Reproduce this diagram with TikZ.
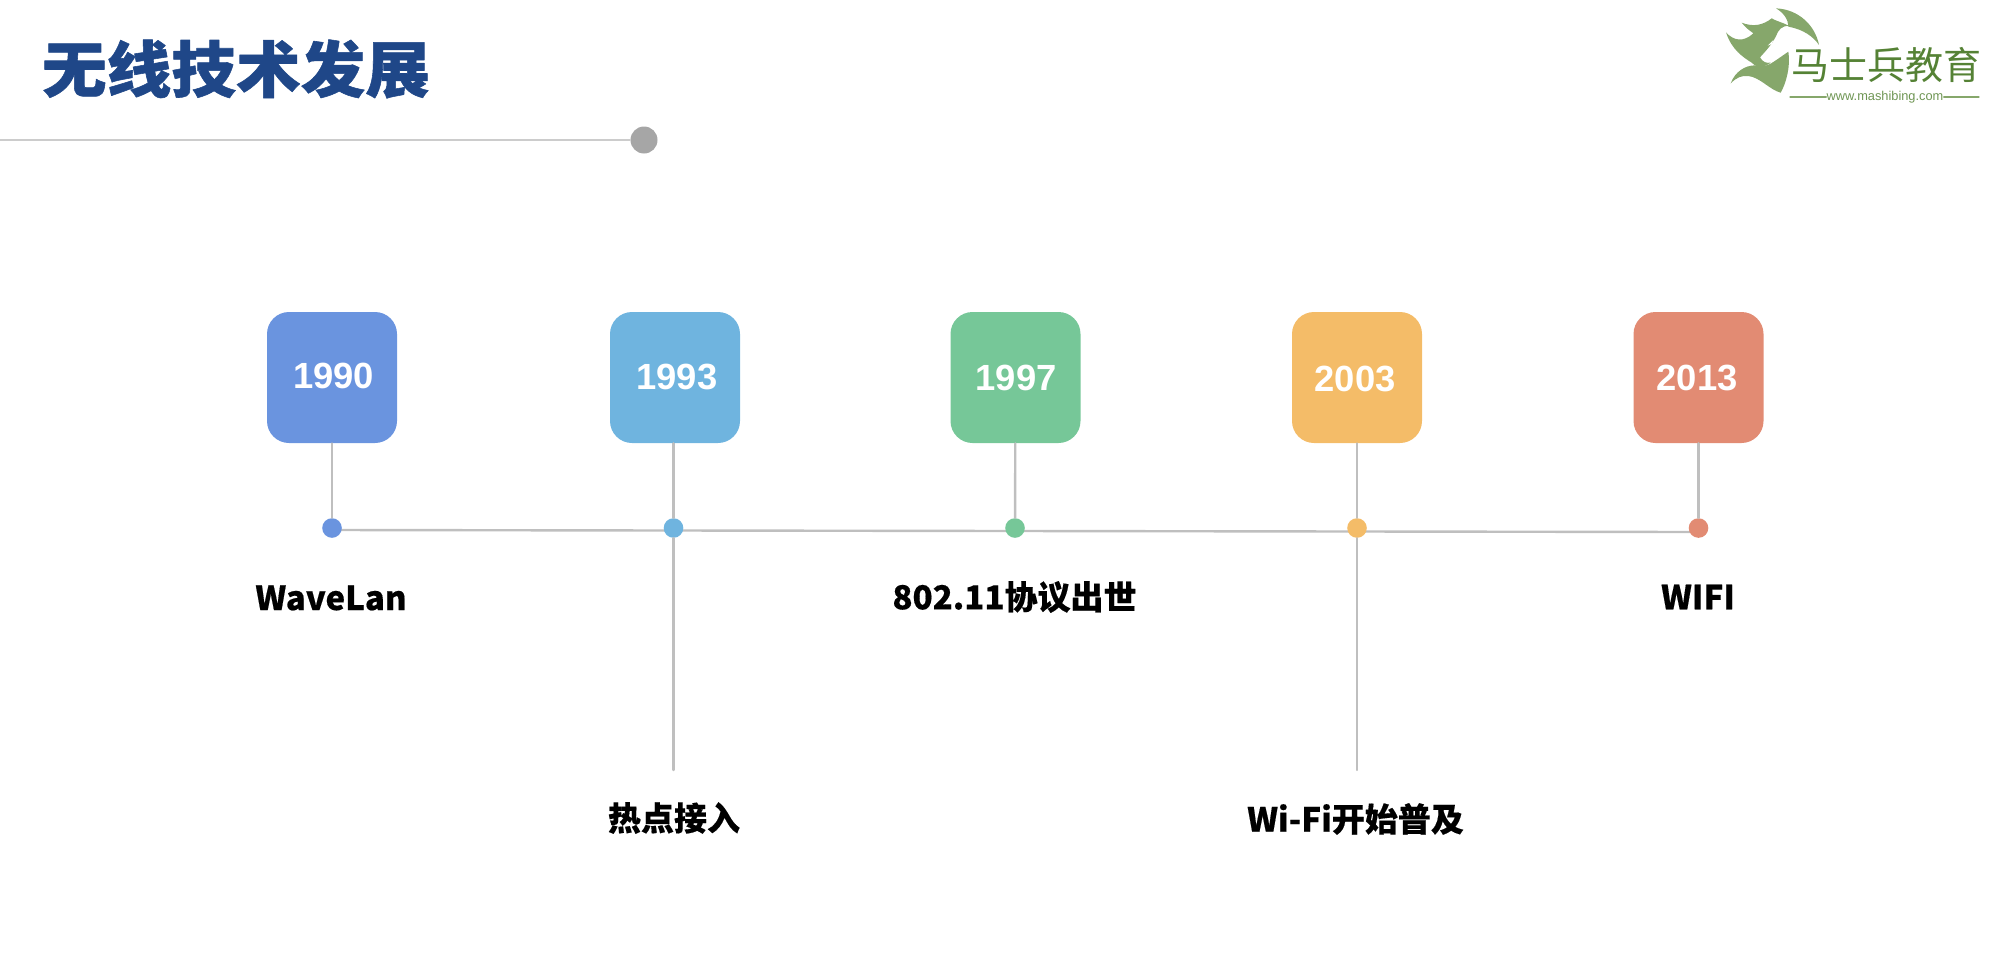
\documentclass[tikz,border=0pt]{standalone}
\usepackage{fontspec}
\usepackage{tikz}
\newfontfamily\cjkfont[BoldFeatures={FakeBold=0.9,FakeStretch=1.06}]{Noto Sans CJK SC}
\newfontfamily\labelfont[BoldFeatures={FakeBold=0.35}]{Noto Sans CJK SC}
\newfontfamily\yearfont{Liberation Sans}
\definecolor{titleblue}{HTML}{1F4788}
\definecolor{linegray}{HTML}{BFBFBF}
\definecolor{col1}{HTML}{6A94DF}
\definecolor{col2}{HTML}{6FB4DF}
\definecolor{col3}{HTML}{76C798}
\definecolor{col4}{HTML}{F4BC68}
\definecolor{col5}{HTML}{E28B73}
\definecolor{horsegreen}{HTML}{86A76B}
\definecolor{logogreen}{HTML}{558235}
\tikzset{
  yearbox/.style={rectangle,rounded corners=11pt,minimum width=65pt,minimum height=65.5pt,inner sep=0pt},
  yeartext/.style={inner sep=0pt,text=white,font=\yearfont\fontsize{18.2}{20}\selectfont\bfseries},
  yeardot/.style={circle,minimum size=9.8pt,inner sep=0pt},
  itemlabel/.style={inner sep=0pt,font=\labelfont\fontsize{16.5}{20}\selectfont\bfseries},
  joinline/.style={draw=linegray,line width=1.2pt}
}
\begin{document}
\begin{tikzpicture}[line cap=round,line join=round,x=0.5pt,y=-0.5pt]
\useasboundingbox (0,0) rectangle (2000,969);
% title
\node (title) [anchor=center,inner sep=0pt,text=titleblue,font=\cjkfont\fontsize{30.5}{36}\selectfont\bfseries] at (236,69) {无线技术发展};
\coordinate (rulestart) at (0,140);
\node (ruledot) [circle,minimum size=13.5pt,inner sep=0pt,fill=black!35] at (644,140) {};
\draw [draw=black!20,line width=1.1pt] (rulestart) -- (ruledot);
% logo
\begin{scope}[shift={(1720,0)},x=0.1667pt,y=-0.1667pt]
\fill [horsegreen] (168,25) .. controls (235,28) and (285,75) .. (297,135) .. controls (280,110) and (250,88) .. (205,80) .. controls (205,58) and (190,38) .. (168,25) -- cycle;
\fill [horsegreen] (65,68) .. controls (100,82) and (130,75) .. (155,55) .. controls (165,62) and (190,68) .. (208,78) .. controls (185,76) and (175,90) .. (168,108) .. controls (155,135) and (135,155) .. (120,172) .. controls (128,186) and (138,190) .. (152,188) .. controls (125,208) and (105,200) .. (95,188) .. controls (70,172) and (35,150) .. (18,97) .. controls (40,122) and (70,128) .. (100,100) .. controls (90,92) and (78,85) .. (65,68) -- cycle;
\fill [horsegreen] (205,155) .. controls (212,200) and (198,250) .. (182,278) .. controls (150,270) and (120,232) .. (85,228) .. controls (65,226) and (50,232) .. (32,250) .. controls (45,215) and (75,196) .. (105,196) .. controls (120,196) and (135,200) .. (150,192) .. controls (170,180) and (190,165) .. (205,155) -- cycle;
\fill [white] (143,137) -- (160,120) -- (155,132) -- cycle;
\end{scope}
\node (logoname) [inner sep=0pt,text=logogreen,font=\labelfont\fontsize{19}{22}\selectfont] at (1886,65) {马士兵教育};
\node (logosite) [inner sep=0pt,text=logogreen!85,font=\yearfont\fontsize{6.4}{8}\selectfont] at (1885,97) {www.mashibing.com};
\coordinate (siteA) at (1790,97);
\coordinate (siteB) at (1979,97);
\draw [draw=horsegreen,line width=0.6pt] (siteA) -- (logosite.west);
\draw [draw=horsegreen,line width=0.6pt] (logosite.east) -- (siteB);
% axis
\coordinate (axisL) at (332,530);
\coordinate (axisR) at (1698,532);
\draw [joinline] (axisL) -- (axisR);
% year boxes
\node (box1990) [yearbox,fill=col1] at (332,377.5) {};
\node (box1993) [yearbox,fill=col2] at (675,377.5) {};
\node (box1997) [yearbox,fill=col3] at (1015.5,377.5) {};
\node (box2003) [yearbox,fill=col4] at (1357,377.5) {};
\node (box2013) [yearbox,fill=col5] at (1698.5,377.5) {};
\node (year1990) [yeartext] at (333.5,376) {1990};
\node (year1993) [yeartext] at (677,377) {1993};
\node (year1997) [yeartext] at (1016,378) {1997};
\node (year2003) [yeartext] at (1355,379) {2003};
\node (year2013) [yeartext] at (1697,377.5) {2013};
% dots
\node (dot1990) [yeardot,fill=col1] at (332,528) {};
\node (dot1993) [yeardot,fill=col2] at (673.5,528) {};
\node (dot1997) [yeardot,fill=col3] at (1015,528) {};
\node (dot2003) [yeardot,fill=col4] at (1357,528) {};
\node (dot2013) [yeardot,fill=col5] at (1698.5,528) {};
% stems
\draw [joinline] (box1990) -- (dot1990);
\draw [joinline] (box1993.south -| dot1993) -- (dot1993);
\draw [joinline] (box1997) -- (dot1997);
\draw [joinline] (box2003) -- (dot2003);
\draw [joinline] (box2013) -- (dot2013);
\coordinate (end1993) at (673.5,770);
\coordinate (end2003) at (1357,770);
\draw [joinline] (dot1993) -- (end1993);
\draw [joinline] (dot2003) -- (end2003);
% labels
\node (lab1990) [itemlabel] at (331,598) {WaveLan};
\node (lab1993) [itemlabel] at (674,818) {热点接入};
\node (lab1997) [itemlabel] at (1014.5,597) {802.11协议出世};
\node (lab2003) [itemlabel] at (1355.5,819) {Wi-Fi开始普及};
\node (lab2013) [itemlabel] at (1698,597) {WIFI};
\end{tikzpicture}
\end{document}
